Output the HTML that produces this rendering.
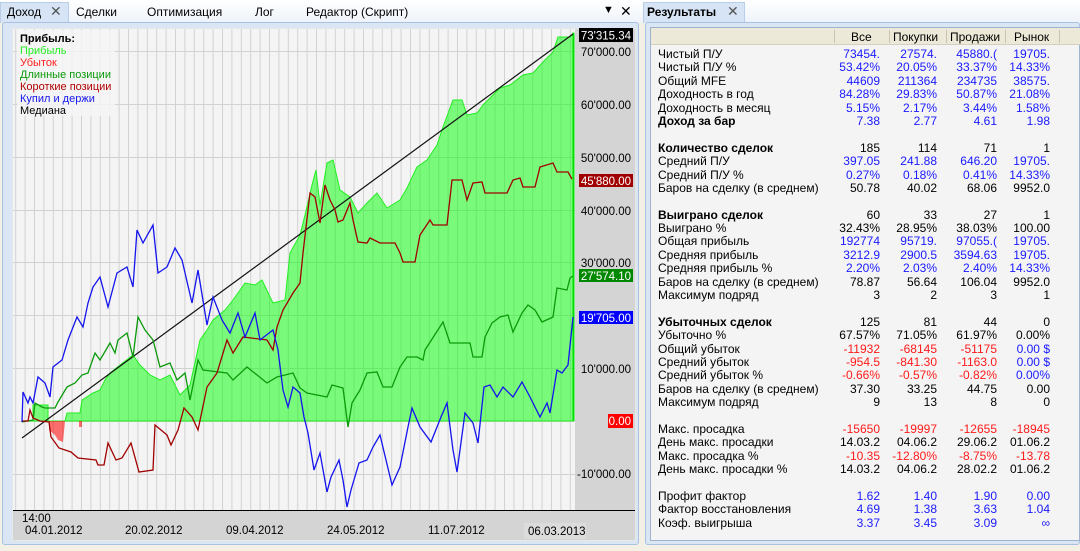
<!DOCTYPE html>
<html><head><meta charset="utf-8">
<style>
*{margin:0;padding:0;box-sizing:border-box}
body{width:1080px;height:551px;overflow:hidden;background:#f3f0e6;font-family:"Liberation Sans","DejaVu Sans",sans-serif;position:relative}
.abs{position:absolute}
.tabbar{left:0;top:0;width:1080px;height:23px;background:linear-gradient(#ffffff,#eef3fa)}
.tab{font-size:12px;color:#000;top:5px}
#res{position:absolute;left:650px;top:48px;display:grid;grid-template-columns:176px 54px 57px 60px 53px;grid-auto-rows:13.4px;font-size:12px;line-height:13.4px;white-space:nowrap}
#res div{overflow:hidden;text-align:right}
#res div.l{text-align:left;padding-left:8px}
.b{color:#1a1aff}.r{color:#ff1a1a}.k{font-weight:bold}
</style></head><body>
<div class="abs tabbar"></div>
<div class="abs" style="left:0;top:2px;width:69px;height:21px;background:#d6e4f6;border:1px solid #b8cde8;border-bottom:none"></div>
<div class="abs tab" style="left:7px">Доход</div>
<div class="abs tab" style="left:50px;font-size:14px;top:3px;color:#555">✕</div>
<div class="abs tab" style="left:76px">Сделки</div>
<div class="abs tab" style="left:147px">Оптимизация</div>
<div class="abs tab" style="left:255px">Лог</div>
<div class="abs tab" style="left:306px">Редактор (Скрипт)</div>
<div class="abs tab" style="left:603px;top:4px;font-size:11px">▼</div>
<div class="abs tab" style="left:620px;top:3px;font-size:14px">✕</div>
<div class="abs" style="left:643px;top:2px;width:102px;height:21px;background:#d6e4f6;border:1px solid #b8cde8;border-bottom:none"></div>
<div class="abs tab" style="left:647px;font-weight:bold">Результаты</div>
<div class="abs tab" style="left:727px;top:3px;font-size:14px;color:#555">✕</div>
<div class="abs" style="left:2px;top:22px;width:637px;height:523px;background:#dbe6f5;border:1px solid #a9c2e4;border-radius:3px"></div>
<div class="abs" style="left:645px;top:22px;width:435px;height:523px;background:#dbe6f5;border:1px solid #a9c2e4;border-radius:3px"></div>
<div class="abs" style="left:650px;top:27px;width:430px;height:514px;background:#f4f4f4;border:1px solid #9fb3cf"></div>
<div class="abs" style="left:651px;top:28px;width:429px;height:17px;background:#ece9d8;border-bottom:1px solid #d4d0c0"></div>
<div class="abs" style="left:834px;top:30px;width:1px;height:13px;background:#c8c4b4"></div>
<div class="abs" style="left:889px;top:30px;width:1px;height:13px;background:#c8c4b4"></div>
<div class="abs" style="left:946px;top:30px;width:1px;height:13px;background:#c8c4b4"></div>
<div class="abs" style="left:1005px;top:30px;width:1px;height:13px;background:#c8c4b4"></div>
<div class="abs" style="left:1059px;top:30px;width:1px;height:13px;background:#c8c4b4"></div>
<div class="abs" style="left:851px;top:30px;font-size:12px">Все</div>
<div class="abs" style="left:893px;top:30px;font-size:12px">Покупки</div>
<div class="abs" style="left:950px;top:30px;font-size:12px">Продажи</div>
<div class="abs" style="left:1014px;top:30px;font-size:12px">Рынок</div>

<svg class="abs" style="left:0;top:0" width="640" height="551">
<rect x="12" y="28" width="624" height="513" fill="#e8e8e8"/>
<rect x="13" y="29" width="562" height="481" fill="#f4f4f4"/>
<rect x="575" y="29" width="60" height="481" fill="#d4d4d4"/>
<rect x="13" y="511" width="622" height="29" fill="#d4d4d4"/>
<g stroke="#d2d2d2" stroke-width="1">
<path d="M15.7 29V510M25.1 29V510M34.5 29V510M43.9 29V510M53.3 29V510M62.7 29V510M72.1 29V510M81.5 29V510M90.9 29V510M100.3 29V510M109.7 29V510M119.1 29V510M128.5 29V510M137.9 29V510M147.3 29V510M156.7 29V510M166.1 29V510M175.5 29V510M184.9 29V510M194.3 29V510M203.7 29V510M213.1 29V510M222.5 29V510M231.9 29V510M241.3 29V510M250.7 29V510M260.1 29V510M269.5 29V510M278.9 29V510M288.3 29V510M297.7 29V510M307.1 29V510M316.5 29V510M325.9 29V510M335.3 29V510M344.7 29V510M354.1 29V510M363.5 29V510M372.9 29V510M382.3 29V510M391.7 29V510M401.1 29V510M410.5 29V510M419.9 29V510M429.3 29V510M438.7 29V510M448.1 29V510M457.5 29V510M466.9 29V510M476.3 29V510M485.7 29V510M495.1 29V510M504.5 29V510M513.9 29V510M523.3 29V510M532.7 29V510M542.1 29V510M551.5 29V510M560.9 29V510M570.3 29V510"/>
<path d="M13 474.5H575M13 421.5H575M13 368.5H575M13 315.5H575M13 262.5H575M13 210.5H575M13 157.5H575M13 104.5H575M13 51.5H575"/>
</g>
<polygon fill="rgba(0,255,0,0.5)" stroke="#22ee22" stroke-width="1" points="22,421 33,421 33,405 48,405 48,421 65,421 67,413 80,413 82,400 93,393 100,390 105,380 110,373 120,365 133,355 140,365 150,375 160,380 170,375 180,395 190,385 200,340 207,330 213,320 225,310 233,300 245,283 255,285 262,280 273,303 285,300 290,253 300,235 305,215 312,185 316,170 320,205 327,163 333,160 340,190 350,197 358,213 367,203 377,193 387,208 400,200 407,188 417,167 427,160 437,145 443,127 453,100 462,100 467,115 477,113 483,105 493,95 500,88 510,85 523,75 533,73 543,62 553,52 558,37 570,37 573,33 573,421"/>
<polygon fill="rgba(255,0,0,0.55)" points="49,421 49,430 55,435 58,440 63,442 65,421 79,421 79,427 82,427 82,421"/>
<line x1="573.5" y1="33" x2="573.5" y2="421" stroke="#00e000" stroke-width="2"/>
<line x1="22" y1="438" x2="573" y2="34" stroke="#111" stroke-width="1.2"/>
<polyline fill="none" stroke="#0a9a0a" stroke-width="1.3" points="22,422 33,420 35,403 42,407 45,408 55,408 58,402 67,387 75,383 82,375 88,373 95,353 100,360 110,343 115,353 118,340 127,333 133,357 138,317 145,330 153,340 160,367 170,363 177,380 185,373 190,400 198,360 203,370 227,373 233,380 247,367 267,383 277,377 293,373 300,388 307,393 327,397 332,385 343,388 348,427 352,403 360,390 367,373 377,372 383,387 392,387 400,367 407,357 417,357 423,360 425,350 443,322 450,343 470,343 473,357 482,357 485,337 492,323 500,317 508,315 513,332 522,313 528,305 535,310 542,322 553,317 557,288 567,290 570,278 573,276"/>
<polyline fill="none" stroke="#a00000" stroke-width="1.3" points="22,421 28,421 30,410 33,418 40,421 49,422 51,437 59,448 71,452 78,458 96,460 98,465 104,465 108,443 116,460 122,458 131,443 139,472 153,470 155,425 167,435 171,445 178,430 184,408 192,417 198,430 207,387 212,380 217,373 227,340 233,353 243,337 267,340 273,350 277,327 283,310 293,293 300,283 303,253 310,193 315,197 320,223 325,185 330,200 335,210 338,222 343,220 350,203 353,220 358,242 367,243 370,238 380,243 395,243 400,253 403,262 415,262 420,235 430,220 433,225 447,225 452,180 462,180 467,200 473,183 482,182 485,193 507,193 513,180 520,178 523,187 535,187 540,167 553,163 557,172 568,172 572,179"/>
<polyline fill="none" stroke="#1414ee" stroke-width="1.3" points="22,422 23,392 28,403 30,397 33,403 38,377 45,383 50,397 53,367 62,360 68,340 77,317 83,327 88,303 93,287 100,277 108,307 117,273 127,267 133,287 137,230 143,243 153,225 158,273 167,267 175,248 182,260 192,303 198,270 207,325 213,297 222,320 230,333 238,313 245,337 255,313 260,340 273,330 278,350 283,390 288,407 293,387 300,393 304,417 308,433 314,470 320,453 327,492 331,477 339,460 343,480 347,507 351,490 359,463 367,460 373,447 380,435 386,460 392,485 400,467 408,427 412,408 420,427 431,442 441,417 447,403 453,450 457,472 465,413 473,423 478,443 484,387 490,385 497,397 503,387 513,397 522,382 530,397 540,417 547,403 550,413 557,370 562,373 568,365 573,317"/>
<line x1="13" y1="510.5" x2="635" y2="510.5" stroke="#000" stroke-width="1"/>
<rect x="17" y="30" width="98" height="86" fill="#f4f4f4" opacity="0.85"/>
<g font-family="Liberation Sans, DejaVu Sans, sans-serif" font-size="11">
<text x="20" y="42" font-weight="bold">Прибыль:</text>
<text x="20" y="54" fill="#22ee22">Прибыль</text>
<text x="20" y="66" fill="#ff2020">Убыток</text>
<text x="20" y="78" fill="#0a9a0a">Длинные позиции</text>
<text x="20" y="90" fill="#b00000">Короткие позиции</text>
<text x="20" y="102" fill="#1414ee">Купил и держи</text>
<text x="20" y="114" fill="#000">Медиана</text>
</g>
<g font-family="Liberation Sans, DejaVu Sans, sans-serif" font-size="11.5" text-anchor="end">
<text x="631" y="56">70'000.00</text>
<text x="631" y="109">60'000.00</text>
<text x="631" y="162">50'000.00</text>
<text x="631" y="215">40'000.00</text>
<text x="631" y="267">30'000.00</text>
<text x="631" y="373">10'000.00</text>
<text x="631" y="478">-10'000.00</text>
<rect x="579" y="28" width="54" height="14" fill="#000"/><text x="631" y="39.5" fill="#fff">73'315.34</text>
<rect x="579" y="174" width="54" height="13" fill="#a00000"/><text x="631" y="185" fill="#fff">45'880.00</text>
<rect x="579" y="269" width="54" height="13" fill="#008800"/><text x="631" y="280" fill="#fff">27'574.10</text>
<rect x="579" y="311" width="54" height="13" fill="#0000ff"/><text x="631" y="322" fill="#fff">19'705.00</text>
<rect x="608" y="414" width="25" height="14" fill="#ff0000"/><text x="631" y="425" fill="#fff">0.00</text>
</g>
<g font-family="Liberation Sans, DejaVu Sans, sans-serif" font-size="11.5">
<text x="22" y="522">14:00</text>
<text x="25" y="534">04.01.2012</text>
<text x="125" y="534">20.02.2012</text>
<text x="226" y="534">09.04.2012</text>
<text x="327" y="534">24.05.2012</text>
<text x="428" y="534">11.07.2012</text>
<rect x="524" y="523" width="62" height="16" fill="#dcdcdc"/>
<text x="528" y="535">06.03.2013</text>
</g>
</svg>

<div id="res">
<div class="l">Чистый П/У</div><div class="b">73454.</div><div class="b">27574.</div><div class="b">45880.(</div><div class="b">19705.</div>
<div class="l">Чистый П/У %</div><div class="b">53.42%</div><div class="b">20.05%</div><div class="b">33.37%</div><div class="b">14.33%</div>
<div class="l">Общий MFE</div><div class="b">44609</div><div class="b">211364</div><div class="b">234735</div><div class="b">38575.</div>
<div class="l">Доходность в год</div><div class="b">84.28%</div><div class="b">29.83%</div><div class="b">50.87%</div><div class="b">21.08%</div>
<div class="l">Доходность в месяц</div><div class="b">5.15%</div><div class="b">2.17%</div><div class="b">3.44%</div><div class="b">1.58%</div>
<div class="l k">Доход за бар</div><div class="b">7.38</div><div class="b">2.77</div><div class="b">4.61</div><div class="b">1.98</div>
<div class="l">&nbsp;</div><div></div><div></div><div></div><div></div>
<div class="l k">Количество сделок</div><div>185</div><div>114</div><div>71</div><div>1</div>
<div class="l">Средний П/У</div><div class="b">397.05</div><div class="b">241.88</div><div class="b">646.20</div><div class="b">19705.</div>
<div class="l">Средний П/У %</div><div class="b">0.27%</div><div class="b">0.18%</div><div class="b">0.41%</div><div class="b">14.33%</div>
<div class="l">Баров на сделку (в среднем)</div><div>50.78</div><div>40.02</div><div>68.06</div><div>9952.0</div>
<div class="l">&nbsp;</div><div></div><div></div><div></div><div></div>
<div class="l k">Выиграно сделок</div><div>60</div><div>33</div><div>27</div><div>1</div>
<div class="l">Выиграно %</div><div>32.43%</div><div>28.95%</div><div>38.03%</div><div>100.00</div>
<div class="l">Общая прибыль</div><div class="b">192774</div><div class="b">95719.</div><div class="b">97055.(</div><div class="b">19705.</div>
<div class="l">Средняя прибыль</div><div class="b">3212.9</div><div class="b">2900.5</div><div class="b">3594.63</div><div class="b">19705.</div>
<div class="l">Средняя прибыль %</div><div class="b">2.20%</div><div class="b">2.03%</div><div class="b">2.40%</div><div class="b">14.33%</div>
<div class="l">Баров на сделку (в среднем)</div><div>78.87</div><div>56.64</div><div>106.04</div><div>9952.0</div>
<div class="l">Максимум подряд</div><div>3</div><div>2</div><div>3</div><div>1</div>
<div class="l">&nbsp;</div><div></div><div></div><div></div><div></div>
<div class="l k">Убыточных сделок</div><div>125</div><div>81</div><div>44</div><div>0</div>
<div class="l">Убыточно %</div><div>67.57%</div><div>71.05%</div><div>61.97%</div><div>0.00%</div>
<div class="l">Общий убыток</div><div class="r">-11932</div><div class="r">-68145</div><div class="r">-51175</div><div class="b">0.00 $</div>
<div class="l">Средний убыток</div><div class="r">-954.5</div><div class="r">-841.30</div><div class="r">-1163.0</div><div class="b">0.00 $</div>
<div class="l">Средний убыток %</div><div class="r">-0.66%</div><div class="r">-0.57%</div><div class="r">-0.82%</div><div class="b">0.00%</div>
<div class="l">Баров на сделку (в среднем)</div><div>37.30</div><div>33.25</div><div>44.75</div><div>0.00</div>
<div class="l">Максимум подряд</div><div>9</div><div>13</div><div>8</div><div>0</div>
<div class="l">&nbsp;</div><div></div><div></div><div></div><div></div>
<div class="l">Макс. просадка</div><div class="r">-15650</div><div class="r">-19997</div><div class="r">-12655</div><div class="r">-18945</div>
<div class="l">День макс. просадки</div><div>14.03.2</div><div>04.06.2</div><div>29.06.2</div><div>01.06.2</div>
<div class="l">Макс. просадка %</div><div class="r">-10.35</div><div class="r">-12.80%</div><div class="r">-8.75%</div><div class="r">-13.78</div>
<div class="l">День макс. просадки %</div><div>14.03.2</div><div>04.06.2</div><div>28.02.2</div><div>01.06.2</div>
<div class="l">&nbsp;</div><div></div><div></div><div></div><div></div>
<div class="l">Профит фактор</div><div class="b">1.62</div><div class="b">1.40</div><div class="b">1.90</div><div class="b">0.00</div>
<div class="l">Фактор восстановления</div><div class="b">4.69</div><div class="b">1.38</div><div class="b">3.63</div><div class="b">1.04</div>
<div class="l">Коэф. выигрыша</div><div class="b">3.37</div><div class="b">3.45</div><div class="b">3.09</div><div class="b">∞</div>
</div>
</body></html>
